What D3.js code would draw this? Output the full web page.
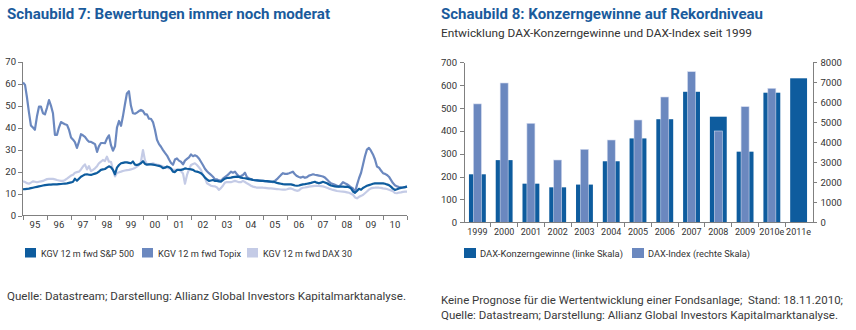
<!DOCTYPE html>
<meta charset="utf-8">
<style>
body { margin: 0; background: #fff; }
text { font-family: "Roboto", "Liberation Sans", sans-serif; fill: #333; }
.titel { font-weight: bold; fill: #1a5b9c; font-size: 15px; }
.achse path, .achse line { stroke: #808080; shape-rendering: crispEdges; }
.achse text { font-size: 9.5px; fill: #333; font-family: "Roboto", sans-serif; }
.linie { fill: none; stroke-width: 2.2px; stroke-linejoin: round; }
.legende { font-size: 9.5px; }
.quelle { font-size: 11.3px; fill: #3a3a3a; }
</style>
<body>

<script src="https://cdnjs.cloudflare.com/ajax/libs/d3/7.8.5/d3.min.js"></script>
<script>

// Schaubild 7: monatliche Werte ab Januar 1995
var kgvSP500 = [
  12, 12.1, 12.2, 12.3, 12.5, 12.7, 12.9, 13.1, 13.3, 13.5, 13.7, 13.9,
  14, 14.1, 14.1, 14.2, 14.2, 14.2, 14.3, 14.4, 14.5, 14.6, 14.7, 14.9,
  15.1, 15.4, 16.8, 15.9, 16.8, 17.7, 18.2, 18.7, 18.8, 18.6, 18.5, 18.8,
  19.1, 19.4, 20, 20.8, 21, 21.2, 21.8, 22.4, 22, 20.8, 18.8, 21.8,
  23, 23.8, 24, 24.2, 24.2, 24, 23.8, 24.6, 23.2, 23, 23.3, 23.8,
  24.7, 23.5, 23.2, 23.3, 23.3, 23.2, 23, 22.8, 22.6, 22.3, 21.6, 21.8,
  22.3, 22, 21.5, 20, 19.8, 20.8, 20.8, 20.8, 21, 21.5, 21.3, 21.2,
  21, 20.8, 20.2, 20, 19.7, 19.3, 18.5, 17.3, 16.5, 15.8, 16, 16.2,
  15.8, 15.8, 15.6, 15.5, 16.2, 16.8, 17.1, 17.2, 17.3, 17.5, 17.6, 17.7,
  17.6, 17.3, 17.1, 17, 16.8, 16.6, 16.5, 16.2, 16.1, 16, 15.9, 15.8,
  15.8, 15.7, 15.7, 15.6, 15.5, 15.5, 15.2, 14.9, 14.7, 14.5, 14.3, 14.2,
  14.2, 14.2, 14.2, 14, 13.7, 13.6, 13.7, 14, 14.2, 14.3, 14.5, 14.7,
  14.9, 15.2, 15.4, 15, 14.7, 15, 15.4, 15.1, 14.7, 14.2, 13.7, 13.5,
  13.3, 13.2, 13.2, 13.2, 13.2, 13.1, 13.2, 12.9, 12.4, 11, 10.4, 11.2,
  12.2, 11.8, 12.6, 13.1, 13.6, 13.9, 14.2, 14.5, 14.7, 14.7, 14.7, 14.7,
  14.7, 14.5, 14.2, 13.9, 13.2, 12.3, 11.7, 12, 12.4, 12.6, 12.8, 13,
  13.2];

var kgvTopix = [
  60.5, 59.4, 54, 47, 41, 40, 39, 45, 49.5, 49.5, 46.5, 46,
  49, 52.5, 50, 46.5, 36.7, 36.7, 40, 42.5, 42, 41.5, 41.2, 39,
  35.5, 34.5, 33.4, 30.8, 33.5, 37, 36.5, 35.8, 34.5, 33.6, 33.5, 33,
  32.5, 29, 31.5, 33, 33, 32.9, 35, 36.5, 32, 29.5, 31.5, 40,
  43, 40.8, 45, 50.5, 55.5, 56.5, 50, 46.5, 46.3, 46.8, 47.5, 48,
  47.5, 46, 46, 44, 44, 42.5, 39, 34.5, 32.5, 31.3, 29.8, 28.5,
  27.3, 25.5, 24, 23.1, 25.5, 26, 25, 24.5, 23.3, 25, 25.8, 26.5,
  27.8, 27, 27.4, 27, 26, 24.5, 23, 21.3, 20.2, 19.3, 18.5, 17.7,
  16.5, 16.5, 16, 15.9, 16.8, 17.5, 18.2, 19, 20, 19.5, 20, 18.8,
  17.8, 18, 18.5, 19.5, 17.5, 17, 16.6, 16.3, 16.1, 16, 15.9, 15.9,
  15.8, 15.7, 15.6, 15.5, 15.4, 15.2, 15.8, 16.6, 17.6, 18.5, 19.3, 19,
  19, 19.3, 19.6, 20, 18.8, 18, 17.6, 17.3, 17.7, 17.2, 17.5, 18.2,
  18.5, 18.8, 18.6, 18.4, 18.2, 18, 17.8, 17.3, 16.4, 15.5, 14.7, 14.4,
  14, 13.6, 13.2, 14.2, 15.2, 14.7, 14.3, 13.6, 12.9, 12.4, 10.6, 14,
  17, 19.5, 23, 27, 30, 30.8, 29.5, 27.8, 25.5, 22.3, 21.8, 20.5,
  19.3, 19, 18.5, 17.7, 16.3, 14.8, 13.8, 13.3, 13, 12.8, 12.8, 13,
  13.2];

var kgvDax30 = [
  15.6, 15.3, 14.8, 14.5, 15, 15.6, 15.4, 15.2, 15.4, 15.6, 15.8, 16.2,
  16.6, 16.7, 16.7, 16.7, 16.5, 16.2, 16, 15.8, 15.8, 16.2, 16.8, 17.5,
  18.2, 18.6, 19.5, 19.8, 20, 21, 22.3, 23.3, 21, 22.5, 20.2, 20.8,
  21.5, 22.5, 23.8, 24.5, 25.3, 24.8, 26.8, 24.5, 24.5, 21, 17.8, 19.5,
  19.7, 20, 20.3, 20.5, 20.7, 20.8, 21, 21.3, 21.7, 22.3, 23, 24.5,
  29.8, 25, 23.5, 23.3, 23.5, 23.8, 23.5, 23.2, 23, 22.7, 22.3, 22,
  21.8, 21.5, 21.2, 20.8, 20.8, 20.8, 20.8, 20.2, 19.2, 14.5, 18.5, 21,
  23, 23.5, 23.8, 23, 22, 20.8, 18.5, 17.2, 14.7, 14.2, 13.6, 13.4,
  13.3, 12.8, 11.7, 12.5, 13.6, 15, 15.3, 15.2, 15.2, 15.5, 15.8, 15.5,
  15.2, 15.2, 15.8, 15.3, 14.7, 14.2, 13.6, 13.2, 13, 12.7, 12.7, 12.7,
  12.7, 12.6, 12.5, 12.4, 12.4, 12.3, 12.2, 12.1, 12, 11.9, 11.8, 11.8,
  12, 12.3, 12.4, 12, 11.6, 11.3, 11.5, 12.3, 12.7, 12.8, 13, 13.2,
  13.3, 13.4, 13.5, 13.6, 13.5, 13.4, 13.3, 13, 12.7, 12.3, 12, 11.7,
  11.5, 11.2, 11.1, 11, 10.9, 10.8, 10.6, 10.4, 10, 9.5, 8.3, 7.9,
  8.6, 9, 9.4, 10.2, 11, 11.8, 12.4, 12.6, 12.7, 12.7, 12.7, 12.6,
  12.4, 12.3, 12.1, 11.8, 11.5, 11.1, 10.3, 10.2, 10.5, 10.6, 10.8, 10.9,
  10.9];

var jahrLabels = ["95","96","97","98","99","00","01","02","03","04","05","06","07","08","09","10"];
var legende7 = ["KGV 12 m fwd S&P 500", "KGV 12 m fwd Topix", "KGV 12 m fwd DAX 30"];

// Schaubild 8
var jahre = ["1999","2000","2001","2002","2003","2004","2005","2006","2007","2008","2009","2010e","2011e"];
var gewinne = [210, 272, 169, 153, 165, 267, 367, 451, 571, 462, 309, 567, 630];
var daxIndex = [5920, 6965, 4950, 3115, 3650, 4115, 5115, 6265, 7530, 4565, 5780, 6700, null];
var legende8 = ["DAX-Konzerngewinne (linke Skala)", "DAX-Index (rechte Skala)"];

var farbeDunkel = "#0e5c9e",
    farbeMittel = "#6b88bf",
    farbeHell = "#c4cbe6";

var svg = d3.select("body").append("svg")
    .attr("width", 856)
    .attr("height", 330);

// ---------- Schaubild 7 ----------
svg.append("text").attr("class", "titel")
    .attr("x", 7).attr("y", 19)
    .attr("textLength", 323).attr("lengthAdjust", "spacingAndGlyphs")
    .text("Schaubild 7: Bewertungen immer noch moderat");

var x = d3.scaleTime()
    .domain([new Date(1995, 0, 1), new Date(2011, 0, 1)])
    .range([23, 407]);
var y = d3.scaleLinear().domain([0, 70]).range([215.7, 61.5]);

svg.append("g").attr("class", "achse")
    .attr("transform", "translate(22,0)")
    .call(d3.axisLeft(y).tickValues(d3.range(0, 71, 10)).tickSize(4).tickSizeOuter(0).tickPadding(2));

var xAchse = svg.append("g").attr("class", "achse")
    .attr("transform", "translate(0,215.7)")
    .call(d3.axisBottom(x).ticks(d3.timeYear.every(1)).tickSize(4).tickSizeOuter(0).tickFormat(""));
xAchse.select(".domain").attr("d", "M22,0H407");

svg.selectAll(".jahr")
    .data(jahrLabels)
  .enter().append("text")
    .attr("class", "jahr")
    .attr("x", function(d, i) { return x(new Date(1995 + i, 6, 1)); })
    .attr("y", 228)
    .attr("text-anchor", "middle")
    .style("font-size", "9.5px")
    .text(function(d) { return d; });

var linie = d3.line()
    .x(function(d, i) { return x(new Date(1995, i, 1)); })
    .y(function(d) { return y(d); });

svg.append("path").attr("class", "linie").attr("stroke", farbeHell).attr("d", linie(kgvDax30));
svg.append("path").attr("class", "linie").attr("stroke", farbeMittel).attr("d", linie(kgvTopix));
svg.append("path").attr("class", "linie").attr("stroke", farbeDunkel).attr("d", linie(kgvSP500));

var leg7x = [25, 142, 247], leg7len = [93, 83, 89],
    leg7farben = [farbeDunkel, farbeMittel, farbeHell];
legende7.forEach(function(t, i) {
  svg.append("rect").attr("x", leg7x[i]).attr("y", 248).attr("width", 11).attr("height", 9.5)
      .attr("fill", leg7farben[i]);
  svg.append("text").attr("class", "legende")
      .attr("x", leg7x[i] + 16).attr("y", 256.5)
      .attr("textLength", leg7len[i]).attr("lengthAdjust", "spacingAndGlyphs")
      .text(t);
});

svg.append("text").attr("class", "quelle")
    .attr("x", 7).attr("y", 300)
    .attr("textLength", 399).attr("lengthAdjust", "spacingAndGlyphs")
    .text("Quelle: Datastream; Darstellung: Allianz Global Investors Kapitalmarktanalyse.");

// ---------- Schaubild 8 ----------
svg.append("text").attr("class", "titel")
    .attr("x", 441).attr("y", 19)
    .attr("textLength", 322).attr("lengthAdjust", "spacingAndGlyphs")
    .text("Schaubild 8: Konzerngewinne auf Rekordniveau");

svg.append("text")
    .attr("x", 441).attr("y", 37)
    .style("font-size", "11.5px")
    .attr("textLength", 311).attr("lengthAdjust", "spacingAndGlyphs")
    .text("Entwicklung DAX-Konzerngewinne und DAX-Index seit 1999");

var xb = d3.scaleBand().domain(jahre).range([464, 812])
    .paddingInner(0.37).paddingOuter(0.185);
var yL = d3.scaleLinear().domain([0, 700]).range([222.3, 62.3]);
var yR = d3.scaleLinear().domain([0, 8000]).range([222.3, 62.3]);

svg.selectAll(".gewinn")
    .data(gewinne)
  .enter().append("rect")
    .attr("class", "gewinn")
    .attr("x", function(d, i) { return xb(jahre[i]); })
    .attr("width", xb.bandwidth())
    .attr("y", function(d) { return yL(d); })
    .attr("height", function(d) { return yL(0) - yL(d); })
    .attr("fill", farbeDunkel);

svg.selectAll(".index")
    .data(daxIndex.filter(function(d) { return d != null; }))
  .enter().append("rect")
    .attr("class", "index")
    .attr("x", function(d, i) { return xb(jahre[i]) + xb.bandwidth() / 2 - 4; })
    .attr("width", 8)
    .attr("y", function(d) { return yR(d); })
    .attr("height", function(d) { return yR(0) - yR(d); })
    .attr("fill", farbeMittel)
    .attr("stroke", "#d3daee")
    .attr("stroke-width", 0.6);

svg.append("g").attr("class", "achse")
    .attr("transform", "translate(464,0)")
    .call(d3.axisLeft(yL).tickValues(d3.range(0, 701, 100)).tickSize(4).tickSizeOuter(0).tickPadding(3));

svg.append("g").attr("class", "achse")
    .attr("transform", "translate(812.5,0)")
    .call(d3.axisRight(yR).tickValues(d3.range(0, 8001, 1000)).tickFormat(d3.format("d"))
      .tickSize(4).tickSizeOuter(0).tickPadding(4));

var xbAchse = svg.append("g").attr("class", "achse")
    .attr("transform", "translate(0,222.3)")
    .call(d3.axisBottom(xb).tickSize(0).tickSizeOuter(0).tickPadding(6));
xbAchse.select(".domain").attr("d", "M464,0H812.5");
xbAchse.selectAll(".tick text").style("font-size", "9px");

// Trennstriche zwischen den Jahren
var grenzen = jahre.map(function(d) { return xb(d) - xb.step() * xb.paddingInner() / 2; });
grenzen.push(xb(jahre[jahre.length - 1]) + xb.bandwidth() + xb.step() * xb.paddingInner() / 2);
xbAchse.selectAll(".grenze")
    .data(grenzen.slice(1, -1))
  .enter().append("line")
    .attr("class", "grenze")
    .attr("x1", function(d) { return d; }).attr("x2", function(d) { return d; })
    .attr("y1", 0).attr("y2", 5);

var leg8x = [464, 632], leg8len = [143, 102], leg8farben = [farbeDunkel, farbeMittel];
legende8.forEach(function(t, i) {
  svg.append("rect").attr("x", leg8x[i]).attr("y", 248).attr("width", 12).attr("height", 10)
      .attr("fill", leg8farben[i]);
  svg.append("text").attr("class", "legende")
      .attr("x", leg8x[i] + 16).attr("y", 256.5)
      .attr("textLength", leg8len[i]).attr("lengthAdjust", "spacingAndGlyphs")
      .text(t);
});

svg.append("text").attr("class", "quelle")
    .attr("x", 441).attr("y", 304)
    .style("white-space", "pre")
    .attr("textLength", 402).attr("lengthAdjust", "spacingAndGlyphs")
    .text("Keine Prognose für die Wertentwicklung einer Fondsanlage;  Stand: 18.11.2010;");

svg.append("text").attr("class", "quelle")
    .attr("x", 441).attr("y", 319)
    .attr("textLength", 397).attr("lengthAdjust", "spacingAndGlyphs")
    .text("Quelle: Datastream; Darstellung: Allianz Global Investors Kapitalmarktanalyse.");

</script>
</body>
